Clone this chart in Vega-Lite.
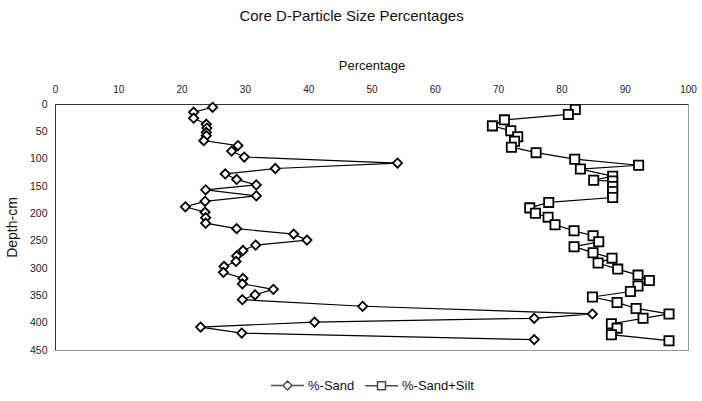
{
  "$schema": "https://vega.github.io/schema/vega-lite/v6.json",
  "autosize": {"type": "none"},
  "padding": {"left": 55, "top": 104, "right": 14, "bottom": 51},
  "width": 633,
  "height": 246,
  "background": "white",
  "title": {
    "text": "Core D-Particle Size Percentages",
    "font": "Liberation Sans",
    "fontSize": 15,
    "fontWeight": "normal",
    "color": "#111",
    "anchor": "middle",
    "dx": -20,
    "offset": 35
  },
  "config": {
    "view": {"stroke": "#999", "strokeWidth": 1},
    "font": "Liberation Sans",
    "legend": {"layout": {"bottom": {"anchor": "middle"}}}
  },
  "data": {
    "values": [
      {"series": "%-Sand", "depth": 6, "pct": 24.9},
      {"series": "%-Sand", "depth": 15, "pct": 21.9},
      {"series": "%-Sand", "depth": 26, "pct": 21.9},
      {"series": "%-Sand", "depth": 37, "pct": 23.9},
      {"series": "%-Sand", "depth": 44, "pct": 24.0},
      {"series": "%-Sand", "depth": 52, "pct": 23.9},
      {"series": "%-Sand", "depth": 58, "pct": 23.9},
      {"series": "%-Sand", "depth": 67, "pct": 23.5},
      {"series": "%-Sand", "depth": 76, "pct": 28.9},
      {"series": "%-Sand", "depth": 86, "pct": 27.9},
      {"series": "%-Sand", "depth": 97, "pct": 29.9},
      {"series": "%-Sand", "depth": 108, "pct": 54.1},
      {"series": "%-Sand", "depth": 118, "pct": 34.8},
      {"series": "%-Sand", "depth": 128, "pct": 26.9},
      {"series": "%-Sand", "depth": 138, "pct": 28.7},
      {"series": "%-Sand", "depth": 148, "pct": 31.8},
      {"series": "%-Sand", "depth": 157, "pct": 23.8},
      {"series": "%-Sand", "depth": 168, "pct": 31.8},
      {"series": "%-Sand", "depth": 178, "pct": 23.7},
      {"series": "%-Sand", "depth": 188, "pct": 20.6},
      {"series": "%-Sand", "depth": 198, "pct": 23.7},
      {"series": "%-Sand", "depth": 208, "pct": 23.8},
      {"series": "%-Sand", "depth": 218, "pct": 23.8},
      {"series": "%-Sand", "depth": 228, "pct": 28.7},
      {"series": "%-Sand", "depth": 238, "pct": 37.7},
      {"series": "%-Sand", "depth": 249, "pct": 39.8},
      {"series": "%-Sand", "depth": 258, "pct": 31.7},
      {"series": "%-Sand", "depth": 268, "pct": 29.7},
      {"series": "%-Sand", "depth": 278, "pct": 28.7},
      {"series": "%-Sand", "depth": 288, "pct": 28.6},
      {"series": "%-Sand", "depth": 297, "pct": 26.7},
      {"series": "%-Sand", "depth": 308, "pct": 26.6},
      {"series": "%-Sand", "depth": 319, "pct": 29.7},
      {"series": "%-Sand", "depth": 329, "pct": 29.6},
      {"series": "%-Sand", "depth": 339, "pct": 34.5},
      {"series": "%-Sand", "depth": 349, "pct": 31.6},
      {"series": "%-Sand", "depth": 358, "pct": 29.6},
      {"series": "%-Sand", "depth": 370, "pct": 48.6},
      {"series": "%-Sand", "depth": 384, "pct": 84.9},
      {"series": "%-Sand", "depth": 392, "pct": 75.7},
      {"series": "%-Sand", "depth": 399, "pct": 41.0},
      {"series": "%-Sand", "depth": 408, "pct": 23.0},
      {"series": "%-Sand", "depth": 419, "pct": 29.5},
      {"series": "%-Sand", "depth": 431, "pct": 75.7},
      {"series": "%-Sand+Silt", "depth": 10, "pct": 82.2},
      {"series": "%-Sand+Silt", "depth": 19, "pct": 81.1},
      {"series": "%-Sand+Silt", "depth": 29, "pct": 71.0},
      {"series": "%-Sand+Silt", "depth": 40, "pct": 69.1},
      {"series": "%-Sand+Silt", "depth": 49, "pct": 72.0},
      {"series": "%-Sand+Silt", "depth": 60, "pct": 73.1},
      {"series": "%-Sand+Silt", "depth": 68, "pct": 72.6},
      {"series": "%-Sand+Silt", "depth": 79, "pct": 72.1},
      {"series": "%-Sand+Silt", "depth": 89, "pct": 76.0},
      {"series": "%-Sand+Silt", "depth": 101, "pct": 82.1},
      {"series": "%-Sand+Silt", "depth": 112, "pct": 92.2},
      {"series": "%-Sand+Silt", "depth": 119, "pct": 83.0},
      {"series": "%-Sand+Silt", "depth": 132, "pct": 88.1},
      {"series": "%-Sand+Silt", "depth": 139.5, "pct": 85.1},
      {"series": "%-Sand+Silt", "depth": 141, "pct": 88.1},
      {"series": "%-Sand+Silt", "depth": 151, "pct": 88.1},
      {"series": "%-Sand+Silt", "depth": 160, "pct": 88.1},
      {"series": "%-Sand+Silt", "depth": 171, "pct": 88.1},
      {"series": "%-Sand+Silt", "depth": 180, "pct": 78.0},
      {"series": "%-Sand+Silt", "depth": 190, "pct": 75.0},
      {"series": "%-Sand+Silt", "depth": 200, "pct": 75.9},
      {"series": "%-Sand+Silt", "depth": 207, "pct": 77.9},
      {"series": "%-Sand+Silt", "depth": 221, "pct": 79.0},
      {"series": "%-Sand+Silt", "depth": 232, "pct": 82.0},
      {"series": "%-Sand+Silt", "depth": 241, "pct": 85.0},
      {"series": "%-Sand+Silt", "depth": 252, "pct": 85.9},
      {"series": "%-Sand+Silt", "depth": 261, "pct": 82.0},
      {"series": "%-Sand+Silt", "depth": 272, "pct": 85.0},
      {"series": "%-Sand+Silt", "depth": 282, "pct": 88.0},
      {"series": "%-Sand+Silt", "depth": 291, "pct": 85.8},
      {"series": "%-Sand+Silt", "depth": 302, "pct": 88.9},
      {"series": "%-Sand+Silt", "depth": 313, "pct": 92.1},
      {"series": "%-Sand+Silt", "depth": 323, "pct": 93.9},
      {"series": "%-Sand+Silt", "depth": 333, "pct": 92.1},
      {"series": "%-Sand+Silt", "depth": 343, "pct": 90.9},
      {"series": "%-Sand+Silt", "depth": 353, "pct": 84.9},
      {"series": "%-Sand+Silt", "depth": 363, "pct": 88.8},
      {"series": "%-Sand+Silt", "depth": 374, "pct": 91.8},
      {"series": "%-Sand+Silt", "depth": 384, "pct": 97.0},
      {"series": "%-Sand+Silt", "depth": 392, "pct": 92.9},
      {"series": "%-Sand+Silt", "depth": 402, "pct": 87.9},
      {"series": "%-Sand+Silt", "depth": 410, "pct": 88.8},
      {"series": "%-Sand+Silt", "depth": 422, "pct": 87.9},
      {"series": "%-Sand+Silt", "depth": 433, "pct": 97.0}
    ]
  },
  "encoding": {
    "x": {
      "field": "pct",
      "type": "quantitative",
      "scale": {"domain": [0, 100], "nice": false, "zero": false},
      "axis": {
        "orient": "top",
        "title": "Percentage",
        "titleFontSize": 13,
        "titleFontWeight": "normal",
        "titleColor": "#111",
        "titlePadding": 12,
        "values": [0, 10, 20, 30, 40, 50, 60, 70, 80, 90, 100],
        "labelFontSize": 10,
        "labelColor": "#222",
        "labelPadding": 10,
        "ticks": false,
        "grid": false,
        "domainColor": "#333",
        "labelFlush": false
      }
    },
    "y": {
      "field": "depth",
      "type": "quantitative",
      "scale": {"domain": [0, 450], "reverse": true, "nice": false},
      "axis": {
        "title": "Depth-cm",
        "titleFontSize": 14,
        "titleFontWeight": "normal",
        "titleColor": "#111",
        "titlePadding": 10,
        "values": [0, 50, 100, 150, 200, 250, 300, 350, 400, 450],
        "labelFontSize": 10.5,
        "labelColor": "#222",
        "labelPadding": 8,
        "ticks": false,
        "grid": false,
        "domainColor": "#333",
        "labelFlush": false
      }
    }
  },
  "layer": [
    {
      "mark": {"type": "line", "color": "black", "strokeWidth": 1.2},
      "encoding": {
        "detail": {"field": "series"},
        "order": {"field": "depth", "type": "quantitative"}
      }
    },
    {
      "mark": {"type": "point", "filled": false, "fill": "white", "fillOpacity": 1, "stroke": "black", "strokeWidth": 1.8, "opacity": 1},
      "encoding": {
        "shape": {
          "field": "series",
          "type": "nominal",
          "scale": {"domain": ["%-Sand", "%-Sand+Silt"], "range": ["diamond", "square"]},
          "legend": null
        },
        "size": {"value": 85}
      }
    },
    {
      "transform": [{"filter": "datum.depth < 0"}],
      "mark": {"type": "point", "filled": false, "stroke": "black", "strokeWidth": 1.5},
      "encoding": {
        "shape": {
          "field": "series",
          "type": "nominal",
          "scale": {
            "domain": ["%-Sand", "%-Sand+Silt"],
            "range": [
              "M-1,0L-0.27,0M0.27,0L1,0M-0.27,0L0,-0.27L0.27,0L0,0.27Z",
              "M-1,0L-0.24,0M0.24,0L1,0M-0.24,-0.24L0.24,-0.24L0.24,0.24L-0.24,0.24Z"
            ]
          },
          "legend": {
            "title": null,
            "orient": "bottom",
            "direction": "horizontal",
            "offset": 18,
            "labelFontSize": 13,
            "labelColor": "#111",
            "symbolSize": 1100,
            "labelOffset": 3,
            "columnPadding": 6
          }
        }
      }
    }
  ],
  "resolve": {"scale": {"shape": "independent"}, "legend": {"shape": "independent"}}
}
